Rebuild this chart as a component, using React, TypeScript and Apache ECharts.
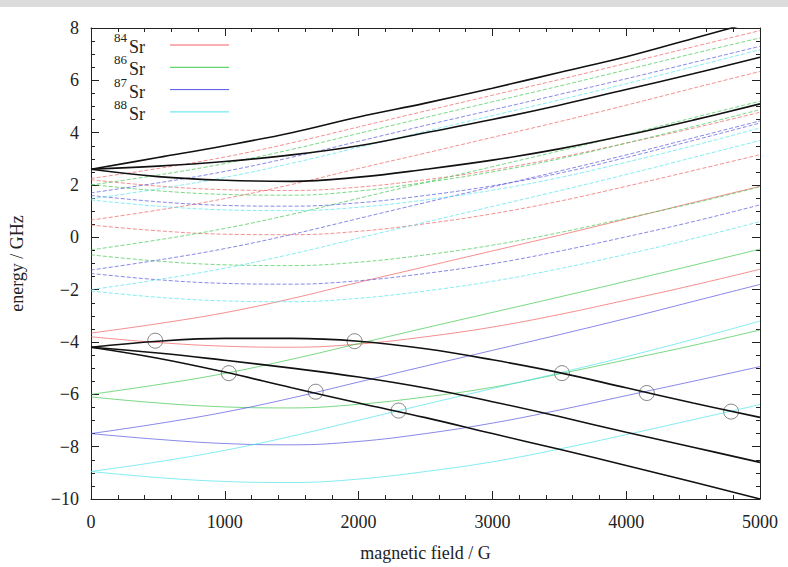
import React, { useEffect, useRef } from 'react';
import * as echarts from 'echarts';

const fieldG = [0, 500, 1000, 1500, 2000, 2500, 3000, 3500, 4000, 4500, 5000];

// black (molecular) levels
const blackUpA = [2.6, 3.05, 3.5, 4.0, 4.6, 5.13, 5.7, 6.3, 6.9, 7.6, 8.3];
const blackUpB = [2.6, 2.72, 2.9, 3.15, 3.5, 4.0, 4.5, 5.05, 5.65, 6.25, 6.88];
const blackUpC = [2.6, 2.32, 2.18, 2.14, 2.3, 2.6, 2.95, 3.38, 3.9, 4.48, 5.1];
const blackLoA = [-4.2, -3.97, -3.86, -3.86, -3.97, -4.26, -4.68, -5.17, -5.75, -6.33, -6.88];
const blackLoB = [-4.2, -4.42, -4.7, -5.0, -5.34, -5.76, -6.28, -6.85, -7.45, -8.02, -8.6];
const blackLoC = [-4.2, -4.62, -5.15, -5.75, -6.33, -6.89, -7.5, -8.1, -8.72, -9.35, -10.0];

// 84Sr
const sr84a = [2.25, 2.63, 3.07, 3.61, 4.22, 4.83, 5.43, 6.03, 6.65, 7.28, 7.9];
const sr84b = [2.2, 1.96, 1.82, 1.79, 1.92, 2.2, 2.57, 3.05, 3.6, 4.17, 4.78];
const sr84c = [0.66, 1.04, 1.48, 2.02, 2.63, 3.22, 3.82, 4.42, 5.05, 5.7, 6.34];
const sr84d = [0.47, 0.25, 0.12, 0.1, 0.23, 0.52, 0.9, 1.38, 1.95, 2.55, 3.16];
const sr84e = [-3.66, -3.3, -2.88, -2.34, -1.72, -1.12, -0.52, 0.08, 0.7, 1.33, 1.95];
const sr84f = [-3.8, -4.02, -4.16, -4.2, -4.08, -3.8, -3.43, -2.95, -2.4, -1.83, -1.22];

// 86Sr
const sr86a = [2.0, 2.38, 2.82, 3.36, 3.97, 4.58, 5.18, 5.78, 6.4, 7.02, 7.62];
const sr86b = [2.02, 1.78, 1.64, 1.61, 1.77, 2.1, 2.5, 3.0, 3.6, 4.23, 4.88];
const sr86c = [-0.48, -0.1, 0.34, 0.88, 1.49, 2.1, 2.7, 3.3, 3.92, 4.57, 5.2];
const sr86d = [-0.67, -0.91, -1.05, -1.08, -0.95, -0.67, -0.3, 0.18, 0.73, 1.3, 1.93];
const sr86e = [-6.0, -5.63, -5.2, -4.66, -4.06, -3.46, -2.87, -2.28, -1.68, -1.07, -0.45];
const sr86f = [-6.1, -6.33, -6.48, -6.52, -6.38, -6.1, -5.73, -5.22, -4.68, -4.13, -3.54];

// 87Sr
const sr87a = [1.7, 2.08, 2.52, 3.06, 3.67, 4.28, 4.87, 5.46, 6.06, 6.68, 7.3];
const sr87b = [1.6, 1.36, 1.22, 1.19, 1.32, 1.6, 1.97, 2.45, 3.05, 3.7, 4.37];
const sr87c = [-1.25, -0.87, -0.43, 0.11, 0.72, 1.33, 1.93, 2.53, 3.15, 3.8, 4.45];
const sr87d = [-1.38, -1.62, -1.76, -1.79, -1.66, -1.38, -1.01, -0.53, 0.02, 0.6, 1.24];
const sr87e = [-7.5, -7.12, -6.68, -6.14, -5.53, -4.92, -4.32, -3.72, -3.1, -2.45, -1.8];
const sr87f = [-7.5, -7.72, -7.88, -7.93, -7.8, -7.5, -7.1, -6.6, -6.05, -5.5, -4.94];

// 88Sr
const sr88a = [1.47, 1.85, 2.29, 2.83, 3.44, 4.05, 4.65, 5.25, 5.87, 6.52, 7.17];
const sr88b = [1.43, 1.19, 1.05, 1.02, 1.15, 1.43, 1.8, 2.28, 2.87, 3.5, 4.18];
const sr88c = [-2.0, -1.62, -1.18, -0.64, -0.03, 0.58, 1.18, 1.78, 2.4, 3.05, 3.7];
const sr88d = [-2.05, -2.29, -2.43, -2.46, -2.33, -2.05, -1.68, -1.2, -0.65, -0.05, 0.6];
const sr88e = [-8.95, -8.58, -8.14, -7.6, -6.99, -6.38, -5.78, -5.18, -4.56, -3.9, -3.2];
const sr88f = [-8.95, -9.18, -9.33, -9.37, -9.24, -8.95, -8.58, -8.09, -7.54, -6.97, -6.39];

// marked crossings
const crossField = [480, 1030, 1679, 2299, 1970, 3520, 4154, 4784];
const crossEnergy = [-3.95, -5.19, -5.9, -6.62, -3.97, -5.19, -5.95, -6.66];

const isotopeLabels = ['84', '86', '87', '88'];
const isotopeColors = ['#f06060', '#40c850', '#5555dd', '#50e4ec'];

const FONT = '"Liberation Serif", "DejaVu Serif", serif';

export default function App() {
  const ref = useRef<HTMLDivElement>(null);
  useEffect(() => {
    if (!ref.current) return;
    const chart = echarts.init(ref.current, undefined, { renderer: 'svg' });
    const toPts = (arr: number[]) => fieldG.map((x, i) => [x, arr[i]]);
    const series: any[] = [];
    const groups = [
      [sr84a, sr84b, sr84c, sr84d, sr84e, sr84f],
      [sr86a, sr86b, sr86c, sr86d, sr86e, sr86f],
      [sr87a, sr87b, sr87c, sr87d, sr87e, sr87f],
      [sr88a, sr88b, sr88c, sr88d, sr88e, sr88f],
    ];
    groups.forEach((g, gi) => {
      g.forEach((arr, k) => {
        series.push({
          type: 'line',
          data: toPts(arr),
          smooth: 0.4,
          symbol: 'none',
          silent: true,
          clip: true,
          lineStyle: { color: isotopeColors[gi], width: 1, type: k < 4 ? [4, 2] : 'solid', opacity: 0.7 },
        });
      });
    });
    [blackUpA, blackUpB, blackUpC, blackLoA, blackLoB, blackLoC].forEach((arr) => {
      series.push({
        type: 'line',
        data: toPts(arr),
        smooth: 0.4,
        symbol: 'none',
        silent: true,
        clip: true,
        lineStyle: { color: '#111', width: 1.6 },
      });
    });
    series.push({
      type: 'scatter',
      data: crossField.map((x, i) => [x, crossEnergy[i]]),
      symbol: 'circle',
      symbolSize: 15,
      silent: true,
      itemStyle: { color: 'rgba(0,0,0,0)', borderColor: '#666', borderWidth: 1 },
    });

    const legendGraphics: any[] = [];
    isotopeLabels.forEach((lab, i) => {
      const y = 45 + i * 22.3;
      legendGraphics.push({
        type: 'text', left: 114, top: y - 14,
        style: { text: lab, fontFamily: FONT, fontSize: 13, fill: '#222' },
      });
      legendGraphics.push({
        type: 'text', left: 129, top: y - 7,
        style: { text: 'Sr', fontFamily: FONT, fontSize: 18, fill: '#222' },
      });
      legendGraphics.push({
        type: 'line',
        shape: { x1: 170, y1: y, x2: 229, y2: y },
        style: { stroke: isotopeColors[i], lineWidth: 1 },
      });
    });

    const axisCommon = {
      axisLine: { show: true, onZero: false, lineStyle: { color: '#222', width: 1 } },
      axisTick: { show: true, inside: true, length: 8, lineStyle: { color: '#222' } },
      minorTick: { show: true, length: 4, lineStyle: { color: '#222' } },
      splitLine: { show: false },
    };

    chart.setOption({
      animation: false,
      backgroundColor: '#fff',
      grid: { left: 89, right: 28, top: 28, bottom: 68, containLabel: false },
      xAxis: [
        {
          type: 'value', min: 0, max: 5000, interval: 1000, position: 'bottom',
          ...axisCommon,
          minorTick: { ...axisCommon.minorTick, splitNumber: 5 },
          axisLabel: { fontFamily: FONT, fontSize: 18, color: '#222', margin: 14, formatter: (v: number) => String(v) },
          name: 'magnetic field / G', nameLocation: 'middle', nameGap: 45,
          nameTextStyle: { fontFamily: FONT, fontSize: 18, color: '#222' },
        },
        {
          type: 'value', min: 0, max: 5000, interval: 1000, position: 'top',
          ...axisCommon,
          minorTick: { ...axisCommon.minorTick, splitNumber: 5 },
          axisLabel: { show: false },
        },
      ],
      yAxis: [
        {
          type: 'value', min: -10, max: 8, interval: 2, position: 'left',
          ...axisCommon,
          minorTick: { ...axisCommon.minorTick, splitNumber: 4 },
          axisLabel: { fontFamily: FONT, fontSize: 18, color: '#222', margin: 12,
            formatter: (v: number) => (v < 0 ? '\u2212' + Math.abs(v) : String(v)) },
          name: 'energy / GHz', nameLocation: 'middle', nameGap: 65,
          nameTextStyle: { fontFamily: FONT, fontSize: 18, color: '#222' },
        },
        {
          type: 'value', min: -10, max: 8, interval: 2, position: 'right',
          ...axisCommon,
          minorTick: { ...axisCommon.minorTick, splitNumber: 4 },
          axisLabel: { show: false },
        },
      ],
      graphic: [
        { type: 'rect', left: 0, top: 0, shape: { width: 788, height: 7 }, style: { fill: '#dcdcdc' }, silent: true },
        ...legendGraphics,
      ],
      series,
    });
    return () => chart.dispose();
  }, []);
  return <div ref={ref} style={{ position: 'fixed', left: 0, top: 0, width: 788, height: 567, background: '#fff' }} />;
}
